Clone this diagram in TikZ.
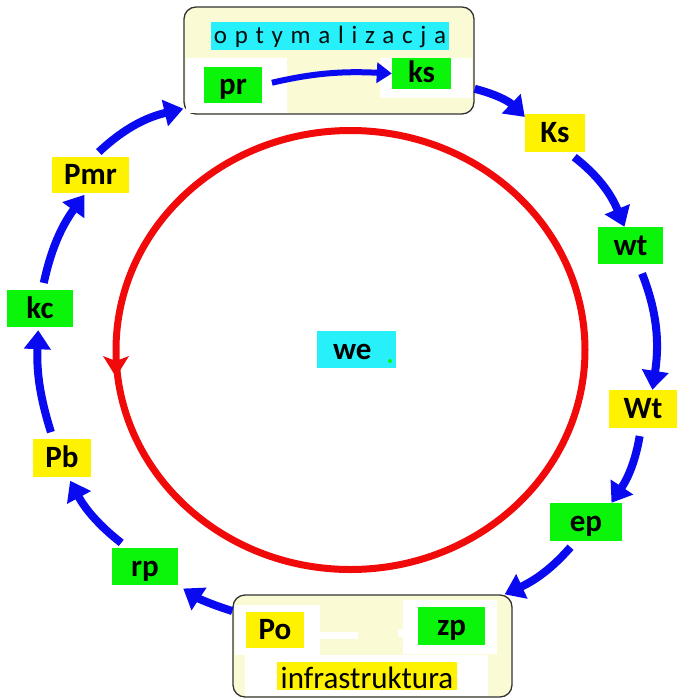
\documentclass[tikz,border=0pt]{standalone}
\usepackage{fontspec}
\setmainfont{Carlito}
\usetikzlibrary{arrows.meta}
\definecolor{lgreen}{RGB}{10,245,10}
\definecolor{lyel}{RGB}{250,250,212}
\definecolor{cyanb}{RGB}{40,240,250}
\definecolor{flowblue}{RGB}{10,10,240}
\definecolor{cycred}{RGB}{240,10,10}
\tikzset{
  lbl/.style={inner sep=0pt, font=\bfseries\fontsize{31}{33}\selectfont, text=black, text height=23pt, text depth=4pt},
  gbox/.style={lbl, fill=lgreen},
  ybox/.style={lbl, fill=yellow},
  frame/.style={draw=black!80, line width=1.3pt, rounded corners=12pt, fill=lyel, inner sep=0pt},
  flow/.style={draw=flowblue, line width=8pt, -{Triangle[length=19pt,width=26pt]}},
  smallflow/.style={draw=flowblue, line width=6pt, -{Triangle[length=15pt,width=20pt]}},
}
\begin{document}
\begin{tikzpicture}[x=1pt,y=1pt]
\useasboundingbox (0,0) rectangle (677,-699);

% frames
\node[frame, minimum width=290pt, minimum height=107pt] (topbox) at (329,-60.5) {};
\fill[white] (186,-58) rectangle (287,-112.5);
\fill[white] (380,-58) rectangle (472,-98);

\node[frame, minimum width=279pt, minimum height=102pt] (botbox) at (372.5,-646) {};
\fill[white] (235,-605) rectangle (320,-655);
\fill[white] (320,-632) rectangle (358,-639);
\fill[white] (403,-600) rectangle (497,-654);
\fill[white] (398,-629) rectangle (403,-637);
\fill[white] (245,-655) rectangle (488,-695.5);

% red cycle
\draw[cycred, line width=7pt] (350.5,-350) ellipse [x radius=234.5, y radius=219.5];
\fill[cycred] (116,-377) -- (103,-356) -- (116,-361) -- (129,-356) -- cycle;

% headings
\node[fill=cyanb, inner sep=0pt, minimum width=238pt, minimum height=28pt,
  font=\fontsize{25}{27}\selectfont\addfontfeature{LetterSpace=31}, text=black!90!teal,
  text height=19pt, text depth=5pt] (opt) at (330,-36) {optymalizacja};
\node[fill=yellow, inner sep=0pt, minimum width=180pt, text=black,
  font=\fontsize{31}{33}\selectfont, text height=26pt, text depth=2pt] (infra) at (367,-676) {infrastruktura};

% labels
\node[gbox, minimum width=58pt, minimum height=36pt] (pr) at (233,-85) {pr};
\node[gbox, minimum width=59pt, minimum height=31pt, text height=21pt, text depth=3pt] (ks) at (421.5,-73.5) {ks};
\node[ybox, minimum width=60pt, minimum height=38pt] (Ks) at (555,-133) {Ks};
\node[gbox, minimum width=65pt, minimum height=37pt] (wt) at (630.5,-245.5) {wt};
\node[ybox, minimum width=68pt, minimum height=38pt] (Wt) at (643,-409) {Wt};
\node[gbox, minimum width=72pt, minimum height=38pt] (ep) at (586,-522) {ep};
\node[ybox, minimum width=58pt, minimum height=36pt] (Po) at (275,-630) {Po};
\node[gbox, minimum width=67pt, minimum height=38pt] (zp) at (451.5,-626) {zp};
\node[gbox, minimum width=66pt, minimum height=37pt] (rp) at (145,-566.5) {rp};
\node[ybox, minimum width=58pt, minimum height=38pt] (Pb) at (62,-458) {Pb};
\node[gbox, minimum width=66pt, minimum height=37pt] (kc) at (40,-308.5) {kc};
\node[ybox, minimum width=77pt, minimum height=36pt] (Pmr) at (90.5,-175) {Pmr};
\node[lbl, fill=cyanb, minimum width=79pt, minimum height=37pt, text width=47pt, align=left] (we) at (356.5,-349.5) {we};
\fill[lgreen] (390,-361) circle (2pt);

% connectors
\draw[smallflow, shorten <=10pt] (pr.east) to[bend left=8] (ks.west);
\draw[flow] (topbox.-11) to[bend left=15] (Ks.152);
\draw[flow, shorten <=8pt] (Ks.-56) to[bend left=15] (wt.108);
\draw[flow, shorten <=10pt] (wt.-67) to[bend left=15] (Wt.64);
\draw[flow, shorten <=8pt] (Wt.-96) to[bend left=12] (ep.37);
\draw[flow, shorten <=8pt] (ep.-118) to[bend left=12] ([xshift=-8pt]botbox.north east);
\draw[flow, shorten >=6pt] (botbox.166) to[bend left=8] (rp.south east);
\draw[flow, shorten <=8pt, shorten >=4pt] (rp.133) to[bend left=12] (Pb.-72);
\draw[flow, shorten <=7pt, shorten >=3pt] (Pb.115) to[bend left=10] (kc.-95);
\draw[flow, shorten <=7pt, shorten >=2pt] (kc.83) to[bend left=12] (Pmr.-105);
\draw[flow, shorten <=7pt] (Pmr.80) to[bend left=15] ([yshift=6pt]topbox.south west);
\end{tikzpicture}
\end{document}
